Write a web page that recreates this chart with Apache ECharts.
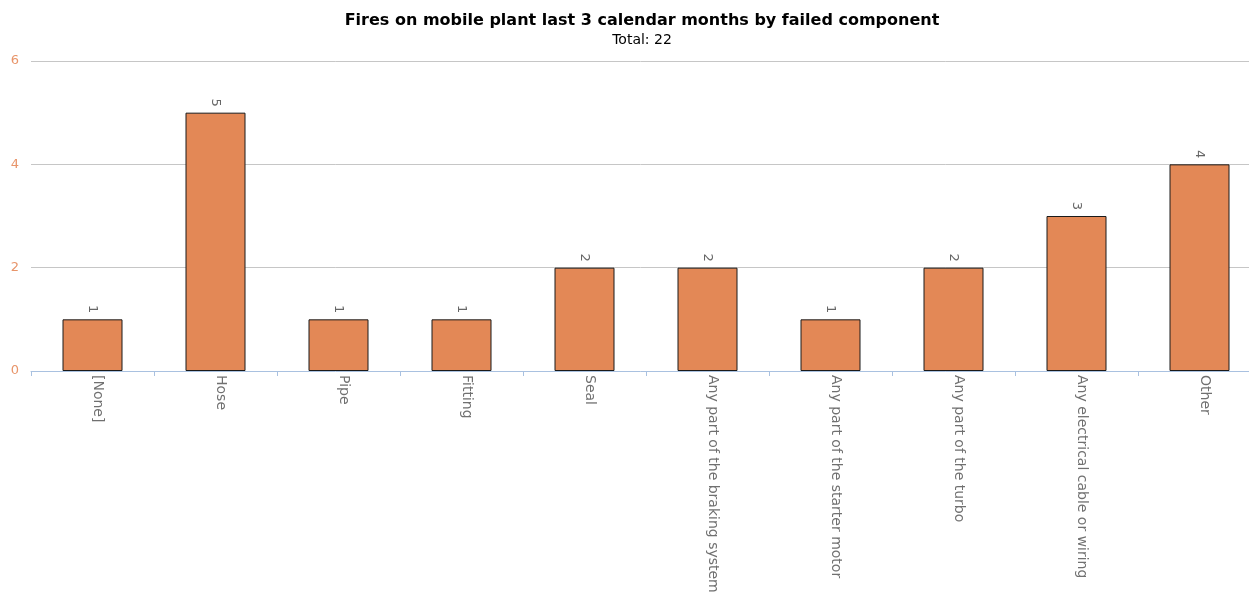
<!DOCTYPE html>
<html><head><meta charset="utf-8">
<script src="https://cdn.jsdelivr.net/npm/echarts@6/dist/echarts.min.js"></script>
<style>html,body{margin:0;padding:0;background:#fff}#c{width:1249px;height:598px}</style>
</head><body><div id="c"></div>
<script>
const categories = ["[None]","Hose","Pipe","Fitting","Seal","Any part of the braking system","Any part of the starter motor","Any part of the turbo","Any electrical cable or wiring","Other"];
const values = [1,5,1,1,2,2,1,2,3,4];
const yTicks = {min:0, max:6, interval:2};
const titleText = "Fires on mobile plant last 3 calendar months by failed component";
const subText = "Total: 22";

const chart = echarts.init(document.getElementById('c'), null, {renderer:'canvas'});
chart.setOption({
  animation:false,
  backgroundColor:'#fff',
  textStyle:{fontFamily:'DejaVu Sans'},
  title:{
    text:titleText, subtext:subText, left:637, top:8, textAlign:'center', itemGap:4,
    textStyle:{fontFamily:'DejaVu Sans', fontSize:16, fontWeight:'bold', color:'#000'},
    subtextStyle:{fontFamily:'DejaVu Sans', fontSize:14, color:'#000'}
  },
  grid:{left:31, width:1230, top:61, height:310, containLabel:false, outerBoundsMode:'none'},
  xAxis:{
    type:'category', data:categories,
    axisLine:{lineStyle:{color:'#a9c1e0', width:1}},
    axisTick:{show:true, length:5, lineStyle:{color:'#a9c1e0'}},
    axisLabel:{rotate:-90, interval:0, color:'#707070', fontSize:14, fontFamily:'DejaVu Sans', margin:4, verticalAlign:'bottom', lineHeight:10}
  },
  yAxis:{
    type:'value', min:yTicks.min, max:yTicks.max, interval:yTicks.interval,
    axisLine:{show:false}, axisTick:{show:false},
    axisLabel:{color:'#e8956a', fontSize:13, fontFamily:'DejaVu Sans', margin:12},
    splitLine:{showMinLine:false, lineStyle:{color:'#c6c6c6', width:1}}
  },
  series:[{
    type:'bar', data:values, barWidth:60,
    itemStyle:{color:'#e38856', borderColor:'#1a1a1a', borderWidth:1},
    label:{show:true, position:'top', rotate:-90, align:'right', verticalAlign:'middle', distance:6,
      color:'#666', fontSize:13, fontFamily:'DejaVu Sans'}
  }]
});
</script></body></html>
